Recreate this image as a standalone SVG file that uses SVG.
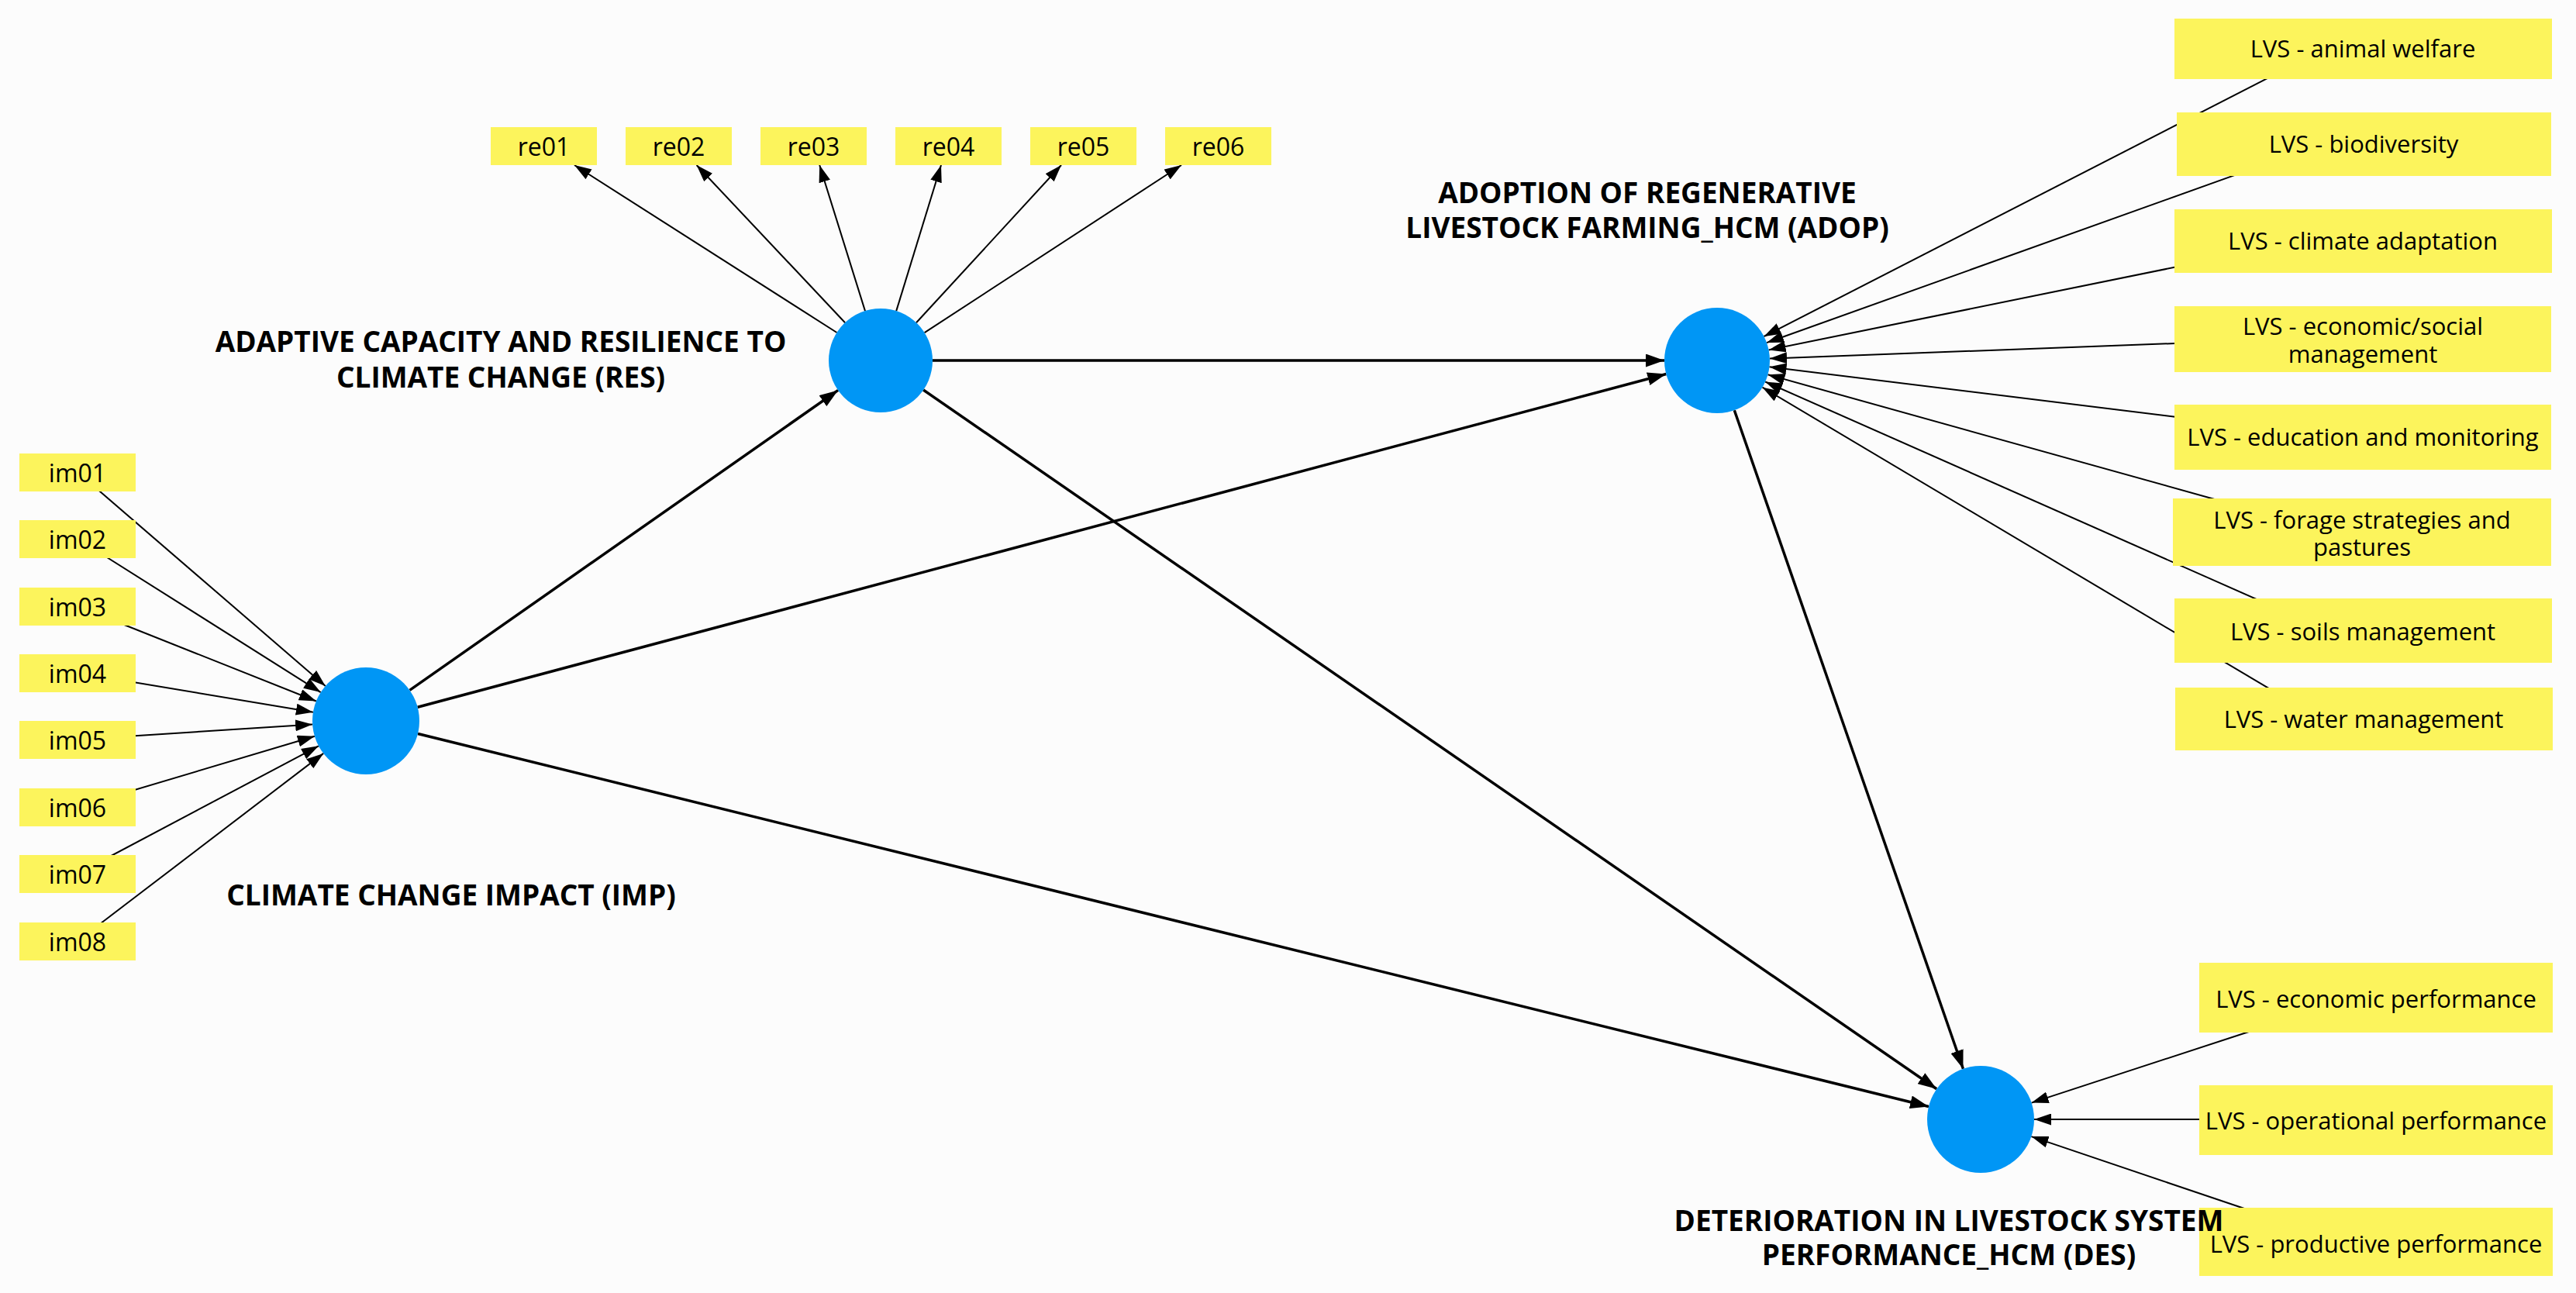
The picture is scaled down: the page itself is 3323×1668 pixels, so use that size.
<svg xmlns="http://www.w3.org/2000/svg" width="3323" height="1668" viewBox="0 0 3323 1668">
<style>
.bg{fill:#fcfcfc}
.ind{fill:#fcf45c}
.lv{fill:#0096f5}
.t{font-family:"Open Sans","Noto Sans","DejaVu Sans",sans-serif;font-size:32px;fill:#000;text-anchor:middle}
.tl{font-family:"Open Sans","Noto Sans","DejaVu Sans",sans-serif;font-size:31px;fill:#000;text-anchor:middle}
.h{font-family:"Open Sans","Noto Sans","DejaVu Sans",sans-serif;font-size:37px;font-weight:bold;fill:#000;text-anchor:middle}
.ci{stroke:#000;stroke-width:2;fill:none;marker-end:url(#ai)}
.cs{stroke:#000;stroke-width:3.5;fill:none;marker-end:url(#as)}
</style>
<defs>
<marker id="ai" viewBox="0 0 22 15" refX="22" refY="7.5" markerWidth="22" markerHeight="15" markerUnits="userSpaceOnUse" orient="auto"><path d="M0,0 L22,7.5 L0,15 z" fill="#000"/></marker>
<marker id="as" viewBox="0 0 24 17" refX="24" refY="8.5" markerWidth="24" markerHeight="17" markerUnits="userSpaceOnUse" orient="auto"><path d="M0,0 L24,8.5 L0,17 z" fill="#000"/></marker>
</defs>
<rect class="bg" x="0" y="0" width="3323" height="1668"/>

<g id="connectors">
<!-- im -> IMP -->
<line class="ci" x1="100" y1="609" x2="419.8" y2="884.9"/>
<line class="ci" x1="100" y1="695" x2="413.7" y2="893.1"/>
<line class="ci" x1="100" y1="782" x2="407.9" y2="904.5"/>
<line class="ci" x1="100" y1="868" x2="403.9" y2="918.7"/>
<line class="ci" x1="100" y1="954" x2="403.1" y2="934.4"/>
<line class="ci" x1="100" y1="1041" x2="405.9" y2="949.7"/>
<line class="ci" x1="100" y1="1127" x2="411.0" y2="962.3"/>
<line class="ci" x1="100" y1="1214" x2="417.2" y2="971.9"/>
<!-- RES -> re -->
<line class="ci" x1="1079.5" y1="429" x2="741" y2="213"/>
<line class="ci" x1="1090.1" y1="416.2" x2="898.6" y2="213"/>
<line class="ci" x1="1116.0" y1="401.1" x2="1057.2" y2="213"/>
<line class="ci" x1="1156.2" y1="401.1" x2="1214" y2="213"/>
<line class="ci" x1="1182.0" y1="416.3" x2="1369" y2="213"/>
<line class="ci" x1="1192.6" y1="429.1" x2="1524" y2="213"/>
<!-- LVS -> ADOP -->
<line class="ci" x1="2940.8" y1="92.9" x2="2275.5" y2="434.0"/>
<line class="ci" x1="2896.9" y1="220.9" x2="2279.0" y2="442.1"/>
<line class="ci" x1="2823.6" y1="341.0" x2="2281.6" y2="451.4"/>
<line class="ci" x1="2824" y1="442.3" x2="2283.0" y2="462.5"/>
<line class="ci" x1="2819.9" y1="539.4" x2="2282.5" y2="473.3"/>
<line class="ci" x1="2867.4" y1="647.0" x2="2280.5" y2="483.3"/>
<line class="ci" x1="2924.7" y1="779.1" x2="2277.2" y2="492.5"/>
<line class="ci" x1="2937.9" y1="894.7" x2="2273.5" y2="499.7"/>
<!-- LVS -> DES -->
<line class="ci" x1="2906.3" y1="1329.3" x2="2620.6" y2="1422.6"/>
<line class="ci" x1="2852" y1="1444" x2="2624" y2="1444"/>
<line class="ci" x1="2906.2" y1="1562.8" x2="2620.4" y2="1466.1"/>
<!-- structural paths -->
<line class="cs" x1="528.5" y1="890.4" x2="1081.1" y2="503.4"/>
<line class="cs" x1="538.7" y1="912.2" x2="2149.3" y2="482.5"/>
<line class="cs" x1="539.0" y1="946.5" x2="2488.0" y2="1427.5"/>
<line class="cs" x1="1203" y1="465" x2="2147" y2="465"/>
<line class="cs" x1="1191.1" y1="503.0" x2="2498.2" y2="1404.8"/>
<line class="cs" x1="2237.3" y1="529.2" x2="2532.4" y2="1378.8"/>
</g>

<g id="im01"><rect class="ind" x="25" y="585" width="150" height="49"/><text class="t" x="100" y="622">im01</text></g>
<g id="im02"><rect class="ind" x="25" y="671" width="150" height="49"/><text class="t" x="100" y="708">im02</text></g>
<g id="im03"><rect class="ind" x="25" y="758" width="150" height="49"/><text class="t" x="100" y="795">im03</text></g>
<g id="im04"><rect class="ind" x="25" y="844" width="150" height="49"/><text class="t" x="100" y="881">im04</text></g>
<g id="im05"><rect class="ind" x="25" y="930" width="150" height="49"/><text class="t" x="100" y="967">im05</text></g>
<g id="im06"><rect class="ind" x="25" y="1017" width="150" height="49"/><text class="t" x="100" y="1054">im06</text></g>
<g id="im07"><rect class="ind" x="25" y="1103" width="150" height="49"/><text class="t" x="100" y="1140">im07</text></g>
<g id="im08"><rect class="ind" x="25" y="1190" width="150" height="49"/><text class="t" x="100" y="1227">im08</text></g>

<g id="re01"><rect class="ind" x="633" y="164" width="137" height="49"/><text class="t" x="701.5" y="201">re01</text></g>
<g id="re02"><rect class="ind" x="807" y="164" width="137" height="49"/><text class="t" x="875.5" y="201">re02</text></g>
<g id="re03"><rect class="ind" x="981" y="164" width="137" height="49"/><text class="t" x="1049.5" y="201">re03</text></g>
<g id="re04"><rect class="ind" x="1155" y="164" width="137" height="49"/><text class="t" x="1223.5" y="201">re04</text></g>
<g id="re05"><rect class="ind" x="1329" y="164" width="137" height="49"/><text class="t" x="1397.5" y="201">re05</text></g>
<g id="re06"><rect class="ind" x="1503" y="164" width="137" height="49"/><text class="t" x="1571.5" y="201">re06</text></g>

<g id="lvs-animal-welfare"><rect class="ind" x="2805" y="24" width="487" height="78"/><text class="tl" x="3048" y="74">LVS - animal welfare</text></g>
<g id="lvs-biodiversity"><rect class="ind" x="2808" y="145" width="483" height="82"/><text class="tl" x="3049" y="197">LVS - biodiversity</text></g>
<g id="lvs-climate-adaptation"><rect class="ind" x="2805" y="270" width="487" height="82"/><text class="tl" x="3048" y="322">LVS - climate adaptation</text></g>
<g id="lvs-economic-social"><rect class="ind" x="2805" y="395" width="486" height="85"/><text class="tl" x="3048" y="432">LVS - economic/social</text><text class="tl" x="3048" y="468">management</text></g>
<g id="lvs-education"><rect class="ind" x="2805" y="522" width="486" height="84"/><text class="tl" x="3048" y="575">LVS - education and monitoring</text></g>
<g id="lvs-forage"><rect class="ind" x="2803" y="643" width="488" height="87"/><text class="tl" x="3047" y="682">LVS - forage strategies and</text><text class="tl" x="3047" y="717">pastures</text></g>
<g id="lvs-soils"><rect class="ind" x="2805" y="772" width="487" height="83"/><text class="tl" x="3048" y="826">LVS - soils management</text></g>
<g id="lvs-water"><rect class="ind" x="2806" y="887" width="487" height="81"/><text class="tl" x="3049" y="939">LVS - water management</text></g>

<g id="lvs-economic-performance"><rect class="ind" x="2837" y="1242" width="456" height="90"/><text class="tl" x="3065" y="1300">LVS - economic performance</text></g>
<g id="lvs-operational-performance"><rect class="ind" x="2837" y="1400" width="456" height="90"/><text class="tl" x="3065" y="1457">LVS - operational performance</text></g>
<g id="lvs-productive-performance"><rect class="ind" x="2837" y="1558" width="456" height="88"/><text class="tl" x="3065" y="1616">LVS - productive performance</text></g>

<g id="IMP"><circle class="lv" cx="472" cy="930" r="69"/><text class="h" x="582" y="1168">CLIMATE CHANGE IMPACT (IMP)</text></g>
<g id="RES"><circle class="lv" cx="1136" cy="465" r="67"/><text class="h" x="646" y="454">ADAPTIVE CAPACITY AND RESILIENCE TO</text><text class="h" x="646" y="500">CLIMATE CHANGE (RES)</text></g>
<g id="ADOP"><circle class="lv" cx="2215" cy="465" r="68"/><text class="h" x="2125" y="262">ADOPTION OF REGENERATIVE</text><text class="h" x="2125" y="307">LIVESTOCK FARMING_HCM (ADOP)</text></g>
<g id="DES"><circle class="lv" cx="2555" cy="1444" r="69"/><text class="h" x="2514" y="1588">DETERIORATION IN LIVESTOCK SYSTEM</text><text class="h" x="2514" y="1632">PERFORMANCE_HCM (DES)</text></g>
</svg>
